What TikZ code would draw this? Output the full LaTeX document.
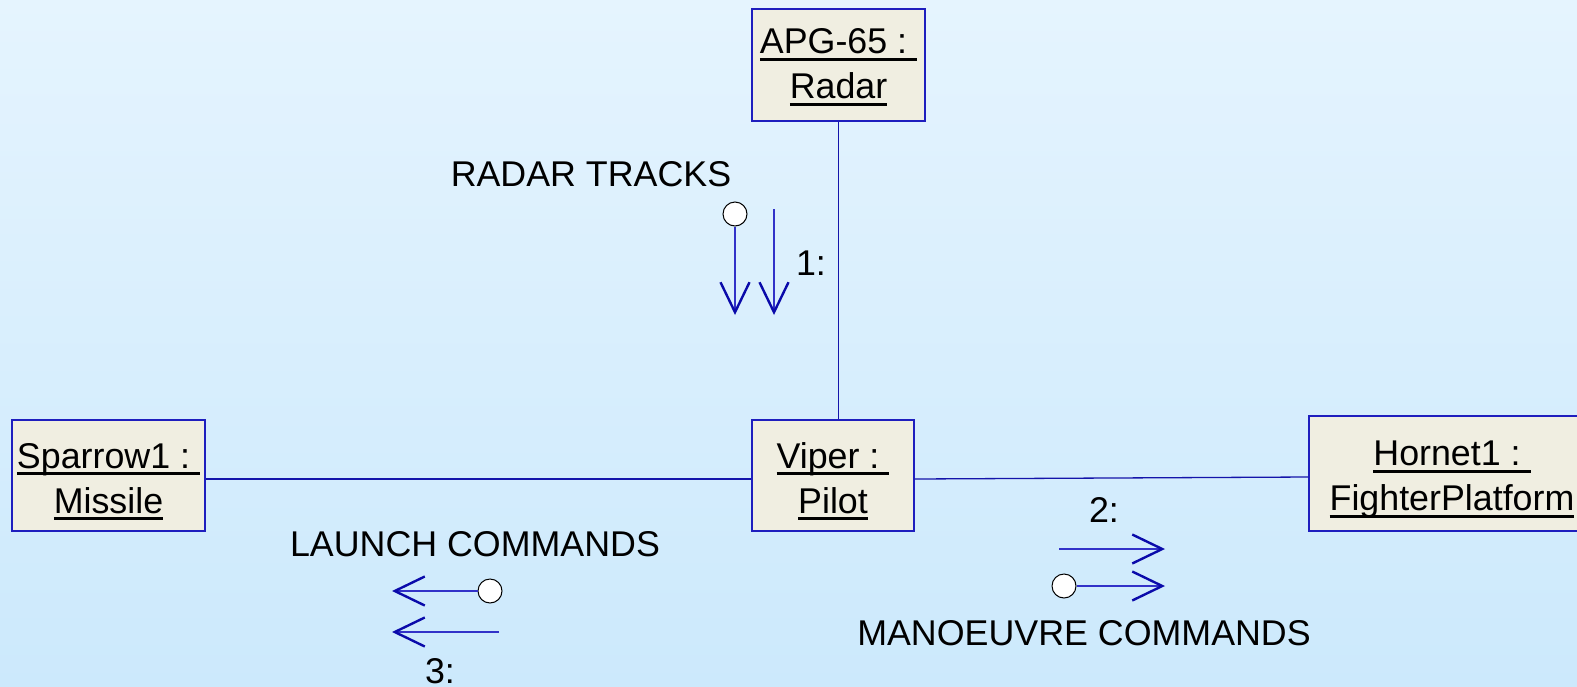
\documentclass[tikz,border=0pt]{standalone}
\usepackage{fontspec}
\setmainfont{Liberation Sans}
\usetikzlibrary{arrows.meta}
\definecolor{bgtop}{RGB}{229,244,254}
\definecolor{bgbot}{RGB}{204,233,252}
\definecolor{boxfill}{RGB}{240,238,225}
\definecolor{boxline}{RGB}{30,30,190}
\definecolor{linkcol}{RGB}{20,20,170}
\definecolor{msgcol}{RGB}{50,50,200}
\definecolor{headcol}{RGB}{10,10,170}
\newcommand\ulx[1]{\setbox0=\hbox{#1}\rlap{\rule[-7pt]{\wd0}{3pt}}\box0}
\newcommand\lowr[1]{\rule{0pt}{#1}}
\tikzset{
  obj/.style={draw=boxline, fill=boxfill, line width=1.2pt, inner sep=0pt, align=center,
    font=\fontsize{35.8}{45}\selectfont},
  lbl/.style={inner sep=0pt, font=\fontsize{35.8}{42}\selectfont},
  link/.style={draw=linkcol, line width=1.3pt},
  msg/.style={draw=msgcol, line width=1.4pt,
    -{Straight Barb[length=30pt,width=29pt,line width=2.4pt,color=headcol]}},
  ball/.style={circle, draw=black, fill=white, line width=1pt, minimum size=24pt, inner sep=0pt}
}
\begin{document}
\begin{tikzpicture}[x=1pt,y=-1pt]
\useasboundingbox (0,0) rectangle (1577,686);
\shade[top color=bgtop, bottom color=bgbot] (0,0) rectangle (1577,686);

% objects
\node[obj, minimum width=173pt, minimum height=112pt] (radar) at (838.5,65) {\lowr{29pt}\ulx{APG-65 :\ }\\\ulx{Radar}};
\node[obj, minimum width=162pt, minimum height=111pt] (pilot) at (833,475.5) {\lowr{37pt}\ulx{Viper :\ }\\\ulx{Pilot}};
\node[obj, minimum width=193pt, minimum height=111pt] (missile) at (108.5,475.5) {\lowr{37pt}\ulx{Sparrow1 :\ }\\\ulx{Missile}};
\node[obj, minimum width=286pt, minimum height=115pt] (hornet) at (1452,473.5) {\lowr{37pt}\ulx{Hornet1 :\ }\\\ulx{FighterPlatform}};

% links
\draw[link] (radar.south) -- (radar.south |- pilot.north);
\draw[link] ([yshift=-3.5pt]missile.east) -- ([yshift=-3.5pt]pilot.west);
\draw[link] ([yshift=-3.5pt]pilot.east) -- ([yshift=-3.5pt]hornet.west);

% message 1
\node[lbl] (l1) at (591,174) {RADAR TRACKS};
\node[ball] (b1) at (735,214) {};
\coordinate (e1) at (735,315);
\draw[msg] (b1) -- (e1);
\coordinate (s1) at (774,209);
\coordinate (f1) at (774,315);
\draw[msg] (s1) -- (f1);
\node[lbl] (n1) at (811,263) {1:};

% message 2
\node[lbl] (n2) at (1104,510) {2:};
\coordinate (s2) at (1059,549);
\coordinate (f2) at (1165,549);
\draw[msg] (s2) -- (f2);
\node[ball] (b2) at (1064,586) {};
\coordinate (e2) at (1165,586);
\draw[msg] (b2) -- (e2);
\node[lbl] (l2) at (1084,633) {MANOEUVRE COMMANDS};

% message 3
\node[lbl] (l3) at (475,544) {LAUNCH COMMANDS};
\node[ball] (b3) at (490,591) {};
\coordinate (e3) at (392,591);
\draw[msg] (b3) -- (e3);
\coordinate (s3) at (499,632);
\coordinate (f3) at (392,632);
\draw[msg] (s3) -- (f3);
\node[lbl] (n3) at (440,671) {3:};
\end{tikzpicture}
\end{document}
